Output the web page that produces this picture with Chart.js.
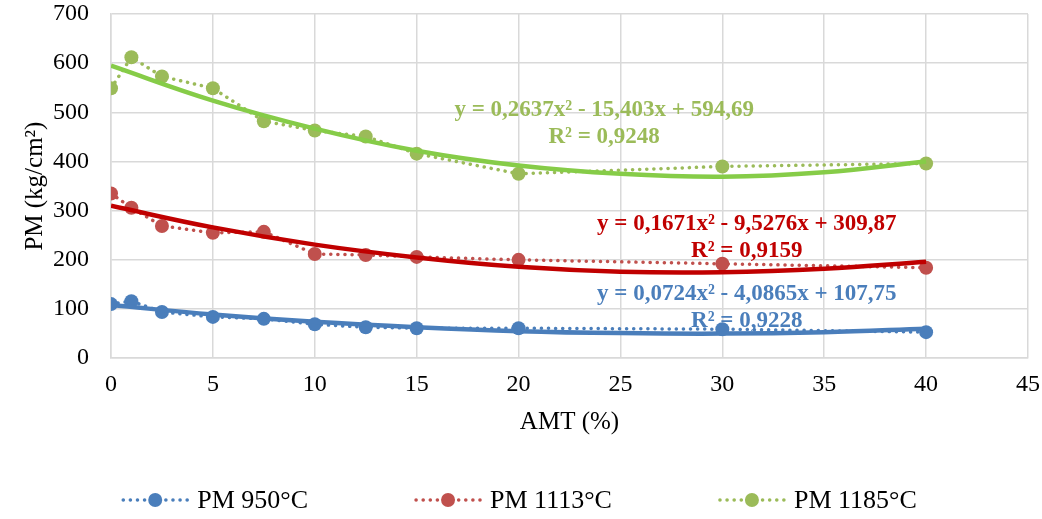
<!DOCTYPE html>
<html>
<head>
<meta charset="utf-8">
<script src="https://cdn.jsdelivr.net/npm/chart.js@4.4.1/dist/chart.umd.min.js"></script>
<style>
  html, body { margin: 0; padding: 0; background: #ffffff; }
  #wrap { width: 1042px; height: 519px; position: relative; }
</style>
</head>
<body>
<div id="wrap"><canvas id="chart"></canvas></div>
<script>
// ─── Datos ──────────────────────────────────────────────────────────────────
const amt       = [0, 1, 2.5, 5, 7.5, 10, 12.5, 15, 20, 30, 40];
const pm950     = [110, 116, 94, 84, 80, 69, 63, 61, 61, 59, 53];
const pm1113    = [335, 306, 269, 255, 257, 212, 210, 206, 200, 192, 184];
const pm1185    = [549, 612, 573, 549, 482, 463, 451, 416, 375, 390, 396];

const trendX    = [0, 5, 10, 15, 20, 25, 30, 35, 40];
const trend950  = [108, 89, 74, 63, 55, 51, 50, 53, 60];
const trend1113 = [310, 266, 231, 205, 186, 176, 175, 182, 196];
const trend1185 = [595, 524, 467, 422, 392, 375, 369, 378, 400];

const seriesNames = ['PM 950°C', 'PM 1113°C', 'PM 1185°C'];
const equations   = [
    'y = 0,0724x² - 4,0865x + 107,75',
    'y = 0,1671x² - 9,5276x + 309,87',
    'y = 0,2637x² - 15,403x + 594,69'
];
const rSquared    = ['R² = 0,9228', 'R² = 0,9159', 'R² = 0,9248'];

const xTicks = [0, 5, 10, 15, 20, 25, 30, 35, 40, 45];
const yTicks = [0, 100, 200, 300, 400, 500, 600, 700];

// ─── Estilos ────────────────────────────────────────────────────────────────
const FONT       = "'Liberation Serif', 'Times New Roman', serif";
const dotColors  = ['#4a7ebb', '#c0504d', '#9bbb59'];
const lineColors = ['#4a7ebb', '#c00000', '#86cc48'];
const textColors = ['#4a7ebb', '#c00000', '#9bbb59'];
// anclaje de cada etiqueta de ecuación (unidades de datos: centro x, y de la 1ª línea)
const labelAnchors = [
    { x: 31.2, y: 131 },
    { x: 31.2, y: 273 },
    { x: 24.2, y: 504 }
];

const toXY = (xs, ys) => xs.map((x, i) => ({ x, y: ys[i] }));

const dataSeries  = [pm950, pm1113, pm1185];
const trendSeries = [trend950, trend1113, trend1185];

const datasets = [];
dataSeries.forEach((vals, i) => {
    datasets.push({
        label: seriesNames[i],
        data: toXY(amt, vals),
        showLine: true,
        borderColor: dotColors[i],
        backgroundColor: dotColors[i],
        borderWidth: 3.5,
        borderDash: [0.1, 7],
        borderCapStyle: 'round',
        pointRadius: 7,
        pointHoverRadius: 7,
        pointBorderWidth: 0,
        order: 2
    });
});
trendSeries.forEach((vals, i) => {
    datasets.push({
        label: 'trend-' + i,
        data: toXY(trendX, vals),
        showLine: true,
        borderColor: lineColors[i],
        backgroundColor: lineColors[i],
        borderWidth: 4.5,
        tension: 0.4,
        pointRadius: 0,
        pointHoverRadius: 0,
        order: 1
    });
});

// Plugin: ecuaciones y R² dentro del área
const trendLabelsPlugin = {
    id: 'trendLabels',
    afterDatasetsDraw(chart) {
        const { ctx, scales } = chart;
        ctx.save();
        ctx.font = `bold 23px ${FONT}`;
        ctx.textAlign = 'center';
        ctx.textBaseline = 'middle';
        labelAnchors.forEach((a, i) => {
            const x = scales.x.getPixelForValue(a.x);
            const y = scales.y.getPixelForValue(a.y);
            ctx.fillStyle = textColors[i];
            ctx.fillText(equations[i], x, y);
            ctx.fillText(rSquared[i], x, y + 27);
        });
        ctx.restore();
    }
};

// Plugin: leyenda abajo (línea punteada + marcador, como en Excel)
const bottomLegendPlugin = {
    id: 'bottomLegend',
    afterDraw(chart) {
        const { ctx, width, height } = chart;
        const iconW = 68, iconGap = 8, itemGap = 106;
        ctx.save();
        ctx.font = `26px ${FONT}`;
        ctx.textBaseline = 'middle';
        const widths = seriesNames.map(n => ctx.measureText(n).width);
        const total = widths.reduce((s, w) => s + w + iconW + iconGap, 0) + itemGap * (seriesNames.length - 1);
        let x = (width - total) / 2 - 2;
        const y = height - 19;
        seriesNames.forEach((name, i) => {
            ctx.strokeStyle = dotColors[i];
            ctx.lineWidth = 3.5;
            ctx.lineCap = 'round';
            ctx.setLineDash([0.1, 7]);
            ctx.beginPath(); ctx.moveTo(x + 2, y); ctx.lineTo(x + iconW - 2, y); ctx.stroke();
            ctx.setLineDash([]);
            ctx.fillStyle = dotColors[i];
            ctx.beginPath(); ctx.arc(x + iconW / 2, y, 7, 0, Math.PI * 2); ctx.fill();
            ctx.fillStyle = '#000000';
            ctx.fillText(name, x + iconW + iconGap, y + 1);
            x += iconW + iconGap + widths[i] + itemGap;
        });
        ctx.restore();
    }
};

new Chart(document.getElementById('chart').getContext('2d'), {
    type: 'scatter',
    data: { datasets },
    plugins: [trendLabelsPlugin, bottomLegendPlugin],
    options: {
        responsive: true,
        maintainAspectRatio: false,
        animation: false,
        layout: { padding: { left: 20, right: 0, top: 0, bottom: 6 } },
        plugins: {
            tooltip: { enabled: false },
            legend: { display: false }
        },
        scales: {
            x: {
                type: 'linear',
                min: 0, max: 45,
                afterBuildTicks: axis => { axis.ticks = xTicks.map(v => ({ value: v })); },
                afterFit: axis => { axis.paddingRight = 14; axis.paddingLeft = 10; },
                grid: { color: '#d9d9d9', lineWidth: 1.5, drawTicks: false },
                border: { color: '#d9d9d9', width: 1.5 },
                ticks: { padding: 12, color: '#000000', font: { family: FONT, size: 24 } },
                title: {
                    display: true,
                    text: 'AMT (%)',
                    color: '#000000',
                    font: { family: FONT, size: 25 },
                    padding: { top: -4, bottom: 76 }
                }
            },
            y: {
                type: 'linear',
                min: 0, max: 700,
                afterBuildTicks: axis => { axis.ticks = yTicks.map(v => ({ value: v })); },
                afterFit: axis => { axis.paddingTop = 14; axis.paddingBottom = 10; },
                grid: { color: '#d9d9d9', lineWidth: 1.5, drawTicks: false },
                border: { color: '#d9d9d9', width: 1.5 },
                ticks: { padding: 22, color: '#000000', font: { family: FONT, size: 24 } },
                title: {
                    display: true,
                    text: 'PM (kg/cm²)',
                    color: '#000000',
                    font: { family: FONT, size: 25 },
                    padding: { top: 0, bottom: -19 }
                }
            }
        }
    }
});
</script>
</body>
</html>
